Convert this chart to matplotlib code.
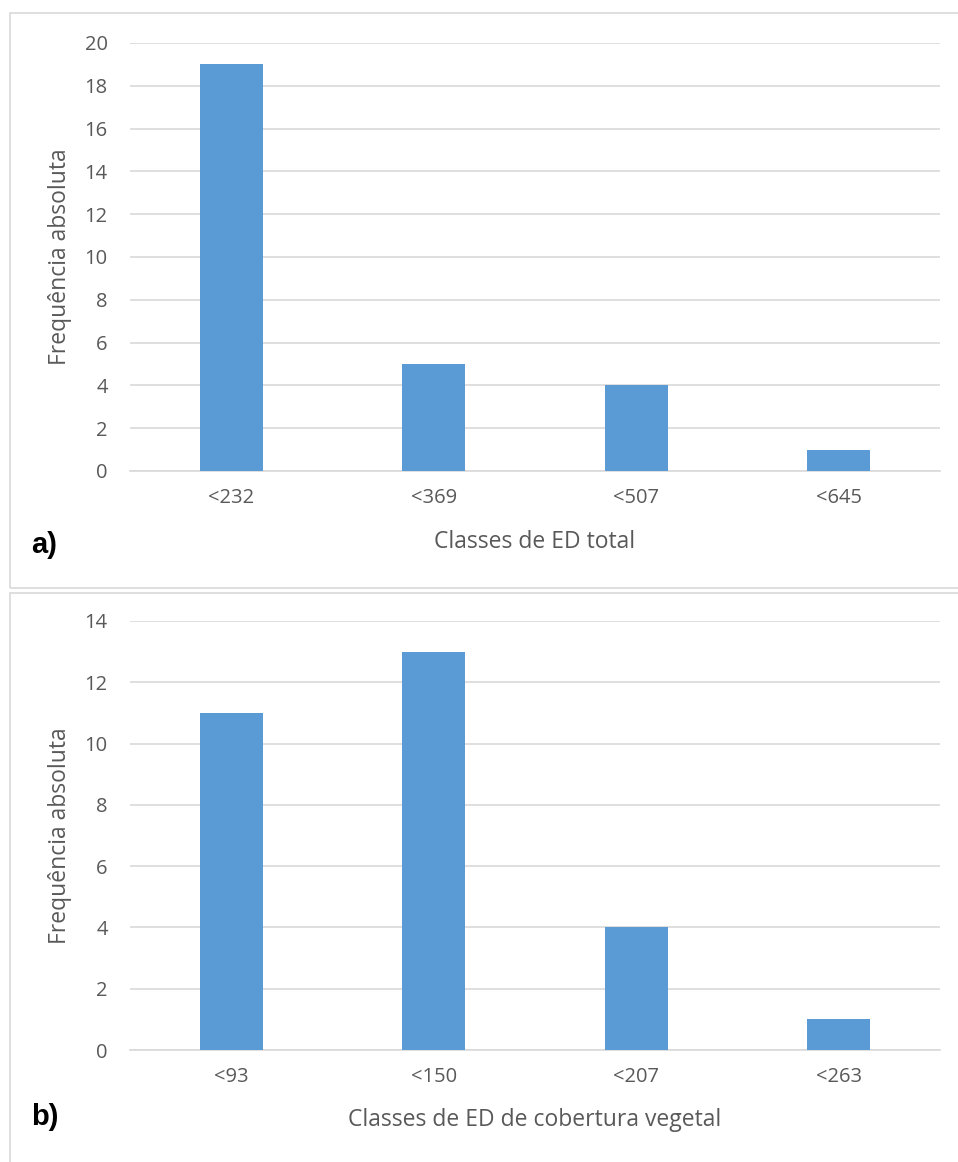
import matplotlib
matplotlib.use("Agg")
import matplotlib.pyplot as plt
from matplotlib.patches import Rectangle

# Data
cats_a = ["<232", "<369", "<507", "<645"]
vals_a = [19, 5, 4, 1]
cats_b = ["<93", "<150", "<207", "<263"]
vals_b = [11, 13, 4, 1]

W, H = 958, 1162
fig = plt.figure(figsize=(W / 100, H / 100), dpi=100)
plt.rcParams['font.family'] = ['Open Sans', 'DejaVu Sans']

BAR = "#5B9BD5"
GRID = "#D9D9D9"
TXT = "#595959"

def fx(px):
    return px / W

def fy(py):
    return 1 - py / H

# panel borders
for (x0, y0, x1, y1) in [(10, 13, 960, 588), (10, 593, 960, 1165)]:
    fig.patches.append(Rectangle((fx(x0), fy(y1)), fx(x1 - x0), (y1 - y0) / H,
                                 transform=fig.transFigure, fill=False,
                                 edgecolor="#D9D9D9", linewidth=1.2))

def panel(left, top, right, bottom, cats, vals, ymax, ystep, xlabel, tag,
          xlab_y, tag_y, ylab_y):
    ax = fig.add_axes([fx(left), fy(bottom), fx(right - left), (bottom - top) / H])
    x = range(len(cats))
    ax.bar(x, vals, width=0.31, color=BAR, zorder=3)
    ax.set_xlim(-0.5, len(cats) - 0.5)
    ax.set_ylim(0, ymax)
    ax.set_yticks(range(0, ymax + 1, ystep))
    ax.set_xticks(list(x))
    ax.set_xticklabels(cats)
    ax.yaxis.grid(True, color=GRID, linewidth=1.2, zorder=0)
    for s in ["top", "right", "left"]:
        ax.spines[s].set_visible(False)
    ax.spines["bottom"].set_color(GRID)
    ax.spines["bottom"].set_linewidth(1.2)
    ax.tick_params(axis="both", length=0, labelsize=14.5, colors=TXT)
    ax.tick_params(axis="y", pad=16)
    ax.tick_params(axis="x", pad=12)
    fig.text(fx(535), fy(xlab_y), xlabel, ha="center", va="center",
             fontsize=16.5, color=TXT)
    fig.text(fx(60), fy(ylab_y), "Frequência absoluta", ha="center", va="center",
             rotation=90, fontsize=16.5, color=TXT)
    fig.text(fx(31), fy(tag_y), tag, ha="left", va="center", fontsize=21,
             fontweight="bold", color="black", family="Liberation Sans")
    return ax

panel(130, 43, 940, 471, cats_a, vals_a, 20, 2, "Classes de ED total", "a)",
      542, 545, 257)
panel(130, 621, 940, 1050, cats_b, vals_b, 14, 2,
      "Classes de ED de cobertura vegetal", "b)", 1120, 1117, 836)

fig.savefig("out.png", dpi=100, facecolor="white")
